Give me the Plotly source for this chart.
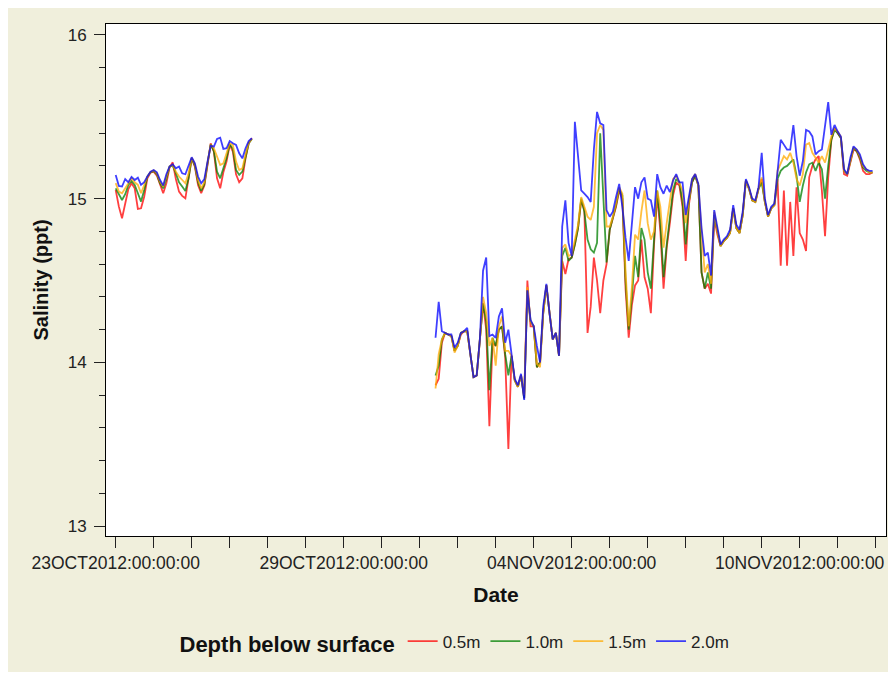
import pandas as pd
import plotly.graph_objects as go

# ---------------- data ----------------
seg1_start = "2012-10-23 00:00"
seg2_start = "2012-10-31 10:00"
sample_step = "2h"

depth_names = ["0.5m", "1.0m", "1.5m", "2.0m"]

# first deployment segment (23OCT - 26OCT)
seg1_05 = [15.053, 14.951, 14.880, 14.978, 15.059, 15.094, 15.063, 14.937, 14.941, 15.012,
           15.124, 15.159, 15.165, 15.141, 15.084, 15.033, 15.094, 15.190, 15.222, 15.120,
           15.043, 15.017, 15.002, 15.114, 15.246, 15.196, 15.084, 15.033, 15.080, 15.206,
           15.338, 15.287, 15.124, 15.063, 15.161, 15.226, 15.328, 15.287, 15.149, 15.100,
           15.124, 15.246, 15.338, 15.369]
seg1_10 = [15.063, 15.023, 14.992, 15.027, 15.084, 15.108, 15.084, 15.033, 14.982, 15.053,
           15.135, 15.161, 15.169, 15.149, 15.094, 15.063, 15.120, 15.196, 15.202, 15.155,
           15.100, 15.074, 15.047, 15.124, 15.246, 15.202, 15.100, 15.047, 15.088, 15.216,
           15.332, 15.291, 15.165, 15.124, 15.185, 15.246, 15.332, 15.304, 15.175, 15.145,
           15.165, 15.257, 15.338, 15.365]
seg1_15 = [15.095, 15.043, 15.033, 15.063, 15.094, 15.124, 15.100, 15.084, 15.033, 15.084,
           15.135, 15.163, 15.173, 15.155, 15.104, 15.074, 15.135, 15.196, 15.206, 15.165,
           15.135, 15.114, 15.094, 15.155, 15.250, 15.210, 15.114, 15.063, 15.100, 15.222,
           15.328, 15.308, 15.257, 15.206, 15.216, 15.277, 15.338, 15.328, 15.226, 15.175,
           15.185, 15.271, 15.344, 15.365]
seg1_20 = [15.145, 15.078, 15.074, 15.120, 15.100, 15.133, 15.114, 15.128, 15.084, 15.100,
           15.135, 15.165, 15.175, 15.161, 15.114, 15.080, 15.149, 15.196, 15.210, 15.185,
           15.196, 15.155, 15.149, 15.196, 15.253, 15.216, 15.135, 15.094, 15.120, 15.226,
           15.322, 15.318, 15.365, 15.373, 15.304, 15.308, 15.352, 15.338, 15.328, 15.277,
           15.246, 15.308, 15.352, 15.369]

# second deployment segment (31OCT - 11NOV)
seg2_05 = [13.86, 13.90, 14.12, 14.18, 14.17, 14.16, 14.07, 14.10, 14.17, 14.19,
           14.19, 14.05, 13.91, 13.92, 14.13, 14.36, 14.20, 13.61, 14.12, 14.10,
           14.20, 14.22, 14.03, 13.47, 14.04, 13.89, 13.85, 13.92, 13.78, 14.50,
           14.22, 14.22, 13.97, 14.00, 14.30, 14.47, 14.30, 14.14, 14.18, 14.04,
           14.62, 14.54, 14.63, 14.64, 14.72, 14.82, 14.99, 14.93, 14.18, 14.34,
           14.64, 14.50, 14.30, 14.50, 14.60, 14.81, 14.88, 14.95, 15.05, 15.00,
           14.45, 14.15, 14.35, 14.47, 14.50, 14.75, 14.52, 14.45, 14.30, 14.72,
           15.02, 14.80, 14.45, 14.70, 14.85, 15.02, 15.10, 15.08, 14.95, 14.62,
           14.96, 15.10, 15.14, 15.08, 14.55, 14.45, 14.48, 14.42, 14.88, 14.78,
           14.71, 14.74, 14.76, 14.79, 14.94, 14.82, 14.79, 14.90, 15.11, 15.06,
           14.99, 14.98, 15.06, 15.12, 14.98, 14.89, 14.94, 14.96, 15.12, 14.59,
           15.05, 14.59, 14.98, 14.65, 15.07, 14.79, 14.75, 14.68, 15.13, 15.20,
           15.24, 15.26, 15.05, 14.77, 15.13, 15.36, 15.43, 15.40, 15.37, 15.15,
           15.14, 15.22, 15.30, 15.29, 15.24, 15.17, 15.15, 15.15, 15.16]
seg2_10 = [13.92, 13.98, 14.14, 14.18, 14.17, 14.16, 14.07, 14.10, 14.18, 14.19,
           14.19, 14.05, 13.91, 13.92, 14.13, 14.36, 14.25, 13.83, 14.15, 14.10,
           14.20, 14.22, 14.05, 13.92, 14.04, 13.89, 13.85, 13.92, 13.78, 14.44,
           14.25, 14.22, 13.97, 14.00, 14.30, 14.47, 14.30, 14.14, 14.18, 14.04,
           14.65, 14.70, 14.62, 14.64, 14.72, 14.82, 15.00, 14.92, 14.75, 14.69,
           14.67, 14.73, 15.40, 14.99, 14.61, 14.81, 14.88, 14.96, 15.06, 15.02,
           14.50, 14.20, 14.40, 14.65, 14.52, 14.82, 14.75, 14.55, 14.45, 14.75,
           15.05, 14.85, 14.52, 14.72, 14.88, 15.05, 15.12, 15.10, 14.98, 14.72,
           14.98, 15.10, 15.14, 15.08, 14.55, 14.45, 14.55, 14.45, 14.90, 14.80,
           14.71, 14.74, 14.76, 14.79, 14.94, 14.82, 14.79, 14.90, 15.11, 15.06,
           14.99, 14.98, 15.06, 15.10, 14.98, 14.89, 14.94, 14.96, 15.12, 15.17,
           15.19, 15.20, 15.22, 15.24, 15.14, 14.98, 15.08, 15.16, 15.21, 15.22,
           15.17, 15.22, 15.18, 15.00, 15.20, 15.36, 15.42, 15.40, 15.37, 15.17,
           15.15, 15.24, 15.31, 15.29, 15.25, 15.19, 15.17, 15.16, 15.16]
seg2_15 = [13.84, 14.05, 14.14, 14.18, 14.17, 14.16, 14.06, 14.10, 14.18, 14.19,
           14.19, 14.05, 13.91, 13.92, 14.13, 14.40, 14.30, 14.10, 14.15, 13.98,
           14.22, 14.28, 14.07, 14.07, 14.04, 13.89, 13.85, 13.92, 13.80, 14.46,
           14.25, 14.22, 13.99, 13.97, 14.30, 14.47, 14.30, 14.14, 14.18, 14.04,
           14.70, 14.72, 14.65, 14.66, 14.75, 14.84, 15.01, 14.95, 14.89, 14.87,
           14.95, 15.40, 15.45, 15.42, 14.83, 14.83, 14.89, 14.97, 15.07, 15.03,
           14.56, 14.22, 14.46, 14.78, 14.75, 14.92, 15.05, 14.85, 14.75, 14.80,
           15.05, 14.95, 14.70, 14.85, 15.00, 15.12, 15.14, 15.10, 15.05, 14.85,
           15.00, 15.12, 15.15, 15.08, 14.80, 14.55, 14.60, 14.48, 14.92, 14.80,
           14.71, 14.74, 14.76, 14.79, 14.94, 14.82, 14.79, 14.90, 15.11, 15.06,
           14.99, 14.98, 15.06, 15.13, 14.98, 14.89, 14.94, 14.96, 15.17, 15.22,
           15.26, 15.24, 15.28, 15.22, 15.12, 15.08, 15.15, 15.33, 15.34, 15.28,
           15.25, 15.22, 15.26, 15.22, 15.30, 15.38, 15.43, 15.41, 15.38, 15.17,
           15.15, 15.24, 15.31, 15.30, 15.26, 15.20, 15.18, 15.16, 15.16]
seg2_20 = [14.15, 14.37, 14.19, 14.18, 14.17, 14.17, 14.09, 14.12, 14.18, 14.19,
           14.21, 14.05, 13.91, 13.92, 14.14, 14.56, 14.64, 14.16, 14.17, 14.15,
           14.28, 14.33, 14.12, 14.20, 14.03, 13.90, 13.86, 13.93, 13.77, 14.44,
           14.26, 14.22, 14.10, 14.00, 14.34, 14.48, 14.30, 14.14, 14.18, 14.04,
           14.83, 14.99, 14.73, 14.65, 15.47, 15.24, 15.05, 15.03, 15.01, 14.98,
           15.30, 15.53, 15.46, 15.45, 14.93, 14.89, 14.92, 15.01, 15.09, 14.95,
           14.76, 14.62, 14.85, 15.07, 15.00, 15.10, 15.13, 15.00, 14.99, 14.89,
           15.15, 15.07, 15.03, 15.08, 15.04, 15.11, 15.15, 15.10, 15.10, 14.90,
           15.01, 15.12, 15.15, 15.09, 14.82, 14.65, 14.67, 14.53, 14.93, 14.83,
           14.72, 14.75, 14.77, 14.81, 14.96, 14.84, 14.81, 14.92, 15.12, 15.07,
           15.00, 14.99, 15.07, 15.28, 15.00, 14.90, 14.95, 14.97, 15.19, 15.36,
           15.33, 15.30, 15.30, 15.45, 15.26, 15.14, 15.23, 15.42, 15.41, 15.38,
           15.27, 15.29, 15.30, 15.44, 15.59, 15.39, 15.45, 15.41, 15.38, 15.18,
           15.15, 15.25, 15.32, 15.30, 15.27, 15.21, 15.18, 15.17, 15.17]

day_ticks_start = "2012-10-23"
day_ticks_end = "2012-11-12"
major_tick_labels = {
    "2012-10-23": "23OCT2012:00:00:00",
    "2012-10-29": "29OCT2012:00:00:00",
    "2012-11-04": "04NOV2012:00:00:00",
    "2012-11-10": "10NOV2012:00:00:00",
}
y_major_ticks = [13, 14, 15, 16]

# ---------------- styling ----------------
series_colors = ["#FF0000", "#008000", "#FFAA00", "#0000FF"]
FONT = "Liberation Sans, Arial, sans-serif"
BEIGE = "#F0EFDC"

t1 = list(pd.date_range(seg1_start, periods=len(seg1_20), freq=sample_step))
t2 = list(pd.date_range(seg2_start, periods=len(seg2_20), freq=sample_step))
gap_time = t1[-1] + pd.Timedelta(hours=1)
x_all = t1 + [gap_time] + t2

segments = [(seg1_05, seg2_05), (seg1_10, seg2_10), (seg1_15, seg2_15), (seg1_20, seg2_20)]

fig = go.Figure()
for name, color, (a, b) in zip(depth_names, series_colors, segments):
    fig.add_trace(go.Scatter(
        x=x_all, y=list(a) + [None] + list(b), mode="lines", name=name,
        line=dict(color=color, width=1.8), opacity=0.75, connectgaps=False,
    ))

tick_days = pd.date_range(day_ticks_start, day_ticks_end, freq="D")
tick_text = [major_tick_labels.get(d.strftime("%Y-%m-%d"), "") for d in tick_days]

# page body adds an 8px offset; the figure itself starts at (8, 8) on screen
W, H = 888, 664
ML, MR, MT, MB = 98, 10, 16, 136

fig.update_layout(
    width=W, height=H,
    margin=dict(l=ML, r=MR, t=MT, b=MB, autoexpand=False),
    paper_bgcolor=BEIGE, plot_bgcolor="white",
    font=dict(family=FONT, color="#222222"),
    showlegend=True,
    legend=dict(
        orientation="h", xref="container", yref="container",
        x=0.5045, xanchor="center", y=0.0437, yanchor="middle",
        title=dict(text="<b>Depth below surface</b>", side="left",
                   font=dict(size=22, family=FONT, color="#111111")),
        font=dict(size=17, family=FONT, color="#222222"),
        bgcolor="rgba(0,0,0,0)", itemwidth=30, tracegroupgap=0,
    ),
)

fig.update_xaxes(
    type="date", automargin=False,
    range=["2012-10-22 17:52:22", "2012-11-12 06:30:00"],
    tickmode="array", tickvals=list(tick_days), ticktext=tick_text,
    ticks="outside", ticklen=11, tickwidth=1, tickcolor="#222222",
    tickfont=dict(size=17.5, family=FONT, color="#222222"),
    showline=True, linecolor="black", linewidth=1, mirror=True,
    showgrid=False, zeroline=False,
    title=dict(text="<b>Date</b>", font=dict(size=21, family=FONT, color="#111111"), standoff=15),
)
fig.update_yaxes(
    automargin=False,
    range=[12.939, 16.067],
    tickmode="array", tickvals=y_major_ticks,
    ticks="outside", ticklen=11, tickwidth=1, tickcolor="#222222",
    tickfont=dict(size=17, family=FONT, color="#222222"),
    ticklabelstandoff=4,
    minor=dict(dtick=0.2, ticks="outside", ticklen=6, tickcolor="#222222", showgrid=False),
    showline=True, linecolor="black", linewidth=1, mirror=True,
    showgrid=False, zeroline=False,
    title=dict(text="<b>Salinity (ppt)</b>", font=dict(size=20, family=FONT, color="#111111"), standoff=13),
)

fig.write_html("out.html")
